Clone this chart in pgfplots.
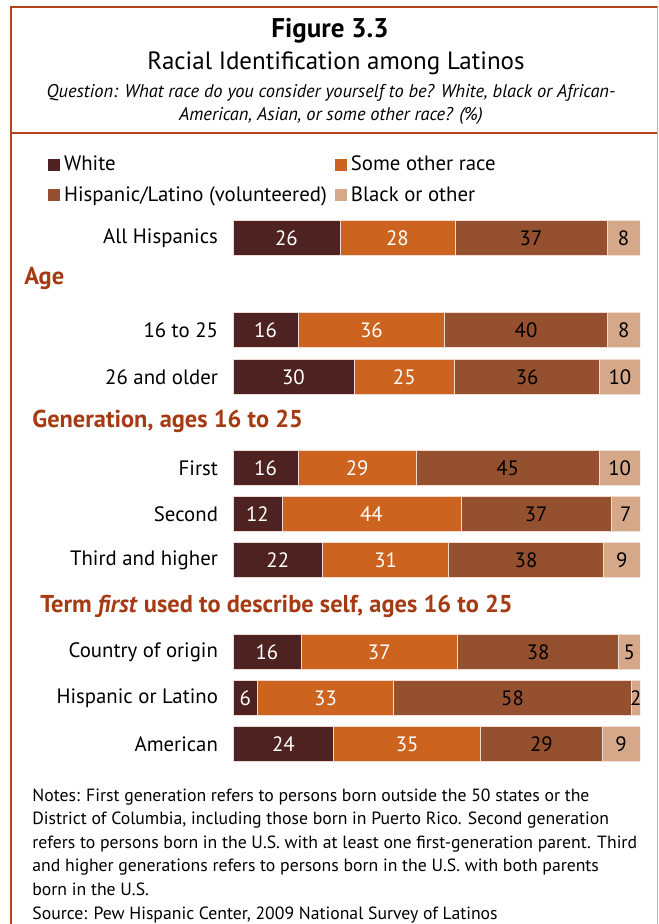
\documentclass[border=0pt]{standalone}
\usepackage{pgfplots}
\pgfplotsset{compat=1.18}
\usepackage{pgfplotstable}
\usepackage{fontspec}
\setmainfont{PT Sans}
\definecolor{cWhite}{HTML}{4E2220}
\definecolor{cSome}{HTML}{CC6420}
\definecolor{cHisp}{HTML}{94502F}
\definecolor{cBlack}{HTML}{D5A88A}
\definecolor{cHead}{HTML}{A63A12}
\definecolor{cFrame}{HTML}{B4441C}
\definecolor{cEdge}{HTML}{EEDCD2}

\pgfplotstableread{
y   w  s  h  b  tot
238 26 28 37 8  99
330 16 36 40 8  100
377 30 25 36 10 101
468 16 29 45 10 100
514 12 44 37 7  100
560 22 31 38 9  100
652 16 37 38 5  96
698 6  33 58 2  99
744 24 35 29 9  97
}\datatable

\begin{document}
\begin{tikzpicture}[x=0.5pt,y=0.5pt]
\useasboundingbox (0,0) rectangle (658,924);
\fill[white] (0,0) rectangle (658,924);
% frame
\draw[cFrame, line width=1.4pt] (11,0) -- (11,917) -- (658,917);
\draw[cFrame, line width=1.4pt] (11,791) -- (658,791);
\draw[cFrame!45, line width=0.5pt] (657,917) -- (657,0);
% titles
\node[font=\fontsize{13.5}{15}\selectfont\bfseries] at (330,893) {Figure 3.3};
\node[font=\fontsize{12.5}{14}\selectfont] at (336,861) {Racial Identification among Latinos};
\node[font=\fontsize{9.2}{11.5}\selectfont\itshape, align=center] at (331,820)
  {Question: What race do you consider yourself to be? White, black or African-\\American, Asian, or some other race? (\%)};
% section headers
\node[anchor=west, inner sep=0pt, text=cHead, font=\fontsize{12.2}{14}\selectfont\bfseries] at (24,646) {Age};
\node[anchor=west, inner sep=0pt, text=cHead, font=\fontsize{12.2}{14}\selectfont\bfseries] at (32,503) {Generation, ages 16 to 25};
\node[anchor=west, inner sep=0pt, text=cHead, font=\fontsize{12.2}{14}\selectfont\bfseries] at (40,318) {Term \textit{first} used to describe self, ages 16 to 25};
% notes
\node[anchor=north west, align=left, inner sep=0pt, font=\fontsize{8.85}{11.8}\selectfont] at (32,136)
  {Notes: First generation refers to persons born outside the 50 states or the\\
   District of Columbia, including those born in Puerto Rico. Second generation\\
   refers to persons born in the U.S. with at least one first-generation parent. Third\\
   and higher generations refers to persons born in the U.S. with both parents\\
   born in the U.S.\\
   Source: Pew Hispanic Center, 2009 National Survey of Latinos};

\begin{axis}[
  at={(116.5pt,77pt)}, anchor=south west,
  scale only axis, width=203.5pt, height=280pt,
  xmin=0, xmax=100, ymin=210, ymax=770, y dir=reverse,
  xbar stacked, bar width=17.5pt,
  axis line style={draw=none}, tick style={draw=none},
  xtick=\empty,
  ytick={238,330,377,468,514,560,652,698,744},
  yticklabels={All Hispanics,16 to 25,26 and older,First,Second,Third and higher,Country of origin,Hispanic or Latino,American},
  yticklabel style={font=\fontsize{10.4}{12}\selectfont, xshift=-4pt},
  point meta=explicit,
  nodes near coords={\pgfmathprintnumber{\pgfplotspointmeta}},
  every node near coord/.append style={font=\fontsize{10.4}{12}\selectfont},
  /pgf/number format/assume math mode=true,
  legend columns=2,
  legend cell align=left,
  legend style={at={(axis description cs:-0.47,1.112)}, anchor=north west, draw=none, fill=none,
    font=\fontsize{10.4}{12}\selectfont, row sep=2.5pt,
    /tikz/every even column/.append style={column sep=2pt}},
  myleg/.style={legend image code/.code={\fill[##1,draw=none] (0pt,-3pt) rectangle (6pt,3pt);}},
]
\addplot[fill=cWhite, draw=cEdge, line width=0.3pt, myleg, every node near coord/.append style={text=white}]
  table[x expr=\thisrow{w}*100/\thisrow{tot}, y=y, meta=w] {\datatable};
\addplot[fill=cSome, draw=cEdge, line width=0.3pt, myleg, every node near coord/.append style={text=white}]
  table[x expr=\thisrow{s}*100/\thisrow{tot}, y=y, meta=s] {\datatable};
\addplot[fill=cHisp, draw=cEdge, line width=0.3pt, myleg, every node near coord/.append style={text=black}]
  table[x expr=\thisrow{h}*100/\thisrow{tot}, y=y, meta=h] {\datatable};
\addplot[fill=cBlack, draw=cEdge, line width=0.3pt, myleg, every node near coord/.append style={text=black}]
  table[x expr=\thisrow{b}*100/\thisrow{tot}, y=y, meta=b] {\datatable};
\legend{White, Some other race, Hispanic/Latino (volunteered), Black or other}
\end{axis}
\end{tikzpicture}
\end{document}
